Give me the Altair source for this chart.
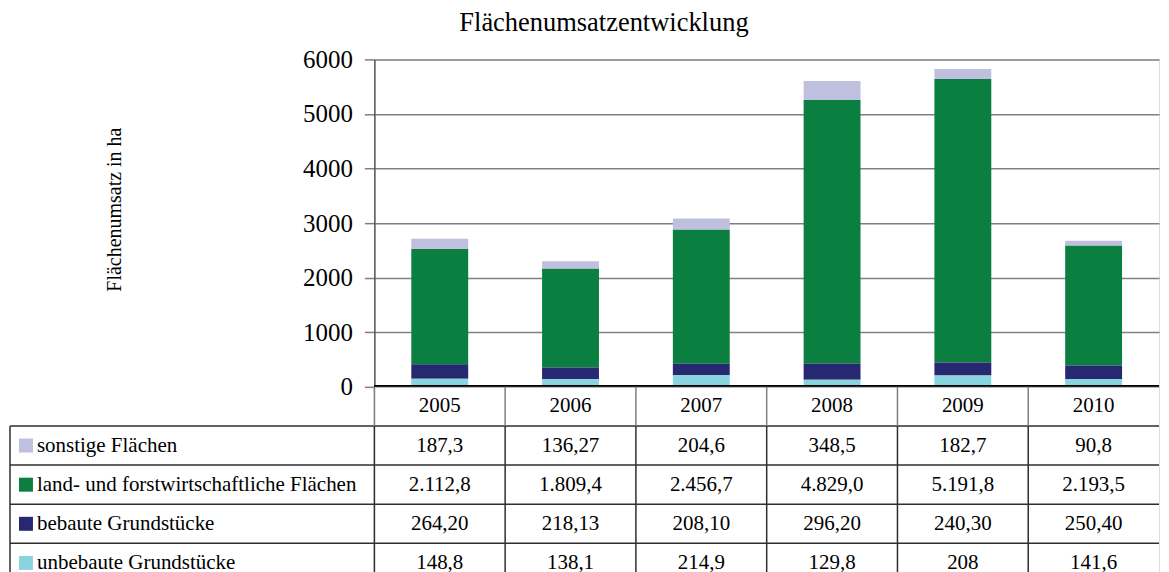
import altair as alt
import pandas as pd

years = ["2005", "2006", "2007", "2008", "2009", "2010"]
categories = ["sonstige Flächen", "land- und forstwirtschaftliche Flächen",
              "bebaute Grundstücke", "unbebaute Grundstücke"]
colors = ["#BFBFDF", "#0B7F40", "#272970", "#8AD4E0"]
stack_order = [3, 2, 1, 0]

sonstige = [187.3, 136.27, 204.6, 348.5, 182.7, 90.8]
land = [2112.8, 1809.4, 2456.7, 4829.0, 5191.8, 2193.5]
bebaute = [264.20, 218.13, 208.10, 296.20, 240.30, 250.40]
unbebaute = [148.8, 138.1, 214.9, 129.8, 208.0, 141.6]

sonstige_txt = ["187,3", "136,27", "204,6", "348,5", "182,7", "90,8"]
land_txt = ["2.112,8", "1.809,4", "2.456,7", "4.829,0", "5.191,8", "2.193,5"]
bebaute_txt = ["264,20", "218,13", "208,10", "296,20", "240,30", "250,40"]
unbebaute_txt = ["148,8", "138,1", "214,9", "129,8", "208", "141,6"]

y_ticks = [0, 1000, 2000, 3000, 4000, 5000, 6000]

FONT = "Liberation Serif"
W = 786
H = 328
LINE = "#2e2e2e"

series = [sonstige, land, bebaute, unbebaute]
texts = [sonstige_txt, land_txt, bebaute_txt, unbebaute_txt]
rows = []
for c, vals, txts, o in zip(categories, series, texts, stack_order):
    for yr, v, t in zip(years, vals, txts):
        rows.append({"year": yr, "category": c, "value": v, "label": t, "order": o})
df = pd.DataFrame(rows)

row_domain = ["Jahr"] + categories
header_df = pd.DataFrame({"year": years, "row": ["Jahr"] * len(years), "label": years})
cells_df = pd.concat([header_df, pd.DataFrame({"year": df["year"], "row": df["category"], "label": df["label"]})],
                     ignore_index=True)
cat_df = pd.DataFrame({"category": categories, "row": categories})
vline_df = pd.DataFrame({"year": years, "row": [categories[0]] * len(years)})
first_row_df = pd.DataFrame({"row": [categories[0]]})

color_scale = alt.Scale(domain=categories, range=colors)

bars = alt.Chart(df).mark_bar().encode(
    x=alt.X("year:N", sort=years, scale=alt.Scale(paddingInner=0.565, paddingOuter=0.2825), axis=None),
    y=alt.Y("value:Q", stack="zero", scale=alt.Scale(domain=[0, 6000], nice=False),
            axis=alt.Axis(values=y_ticks, format="d", labelFontSize=25, labelColor="black",
                          labelFont=FONT, labelPadding=12, tickSize=10, tickColor="#7f7f7f",
                          tickWidth=1.5, domainColor="#555555", domainWidth=1.5,
                          gridColor="#808080", gridWidth=1.5,
                          title="Flächenumsatz in ha", titleFont=FONT, titleFontSize=20,
                          titleFontWeight="normal", titleColor="black", titleAngle=270,
                          titleX=-250, titleY=150, titleAlign="center", titleBaseline="bottom")),
    color=alt.Color("category:N", scale=color_scale, legend=None),
    order=alt.Order("order:Q"),
)
base_rule = alt.Chart(df).mark_rule(color="black", strokeWidth=2).encode(y=alt.datum(0))

top = alt.layer(bars, base_rule).properties(
    width=W, height=H,
    title=alt.Title("Flächenumsatzentwicklung", font=FONT, fontSize=26.5, fontWeight="normal",
                    color="black", anchor="middle", dx=-163, frame="group", offset=-10,
                    baseline="alphabetic"),
)

xt = alt.X("year:N", sort=years, scale=alt.Scale(paddingInner=0, paddingOuter=0), axis=None)
yscale = alt.Scale(domain=row_domain, paddingInner=0, paddingOuter=0)
yt = alt.Y("row:N", sort=row_domain, scale=yscale, axis=None)
yt_top = alt.Y("row:N", sort=row_domain, scale=yscale, axis=None, bandPosition=0)
xt_left = alt.X("year:N", sort=years, scale=alt.Scale(paddingInner=0, paddingOuter=0), axis=None,
                bandPosition=0)

# horizontal row separators (across label column and data columns)
h_lines = alt.Chart(cat_df).mark_rule(color=LINE, strokeWidth=1.5).encode(
    y=yt_top, x=alt.value(-365), x2=alt.value("width"))
# vertical separators in header row (grey)
v_header = alt.Chart(vline_df).mark_rule(color="#7f7f7f", strokeWidth=1.5).encode(
    x=xt_left, y=yt_top, y2=alt.value(0))
# vertical separators in data rows
v_data = alt.Chart(vline_df).mark_rule(color=LINE, strokeWidth=1.5).encode(
    x=xt_left, y=yt_top, y2=alt.value("height"))
# left border of label column
v_left = alt.Chart(first_row_df).mark_rule(color=LINE, strokeWidth=1.5).encode(
    x=alt.value(-365), y=yt_top, y2=alt.value("height"))

cell_text = alt.Chart(cells_df).mark_text(fontSize=21, font=FONT, color="black").encode(
    x=xt, y=yt, text="label:N")
squares = alt.Chart(cat_df).mark_square(size=196, opacity=1).encode(
    x=alt.value(-349), y=yt, color=alt.Color("category:N", scale=color_scale, legend=None))
label_text = alt.Chart(cat_df).mark_text(align="left", fontSize=21, font=FONT, color="black").encode(
    x=alt.value(-338), y=yt, text="category:N")

table = alt.layer(h_lines, v_header, v_data, v_left, cell_text, squares, label_text).properties(
    width=W, height=196)

chart = alt.vconcat(top, table, spacing=0, bounds="flush").resolve_scale(
    x="independent", y="independent", color="shared"
).properties(
    padding={"left": 0, "top": 1, "right": 0, "bottom": 0}
).configure_view(stroke=None).configure(font=FONT)

chart.save("out.html", embed_options={"renderer": "svg", "actions": False})
